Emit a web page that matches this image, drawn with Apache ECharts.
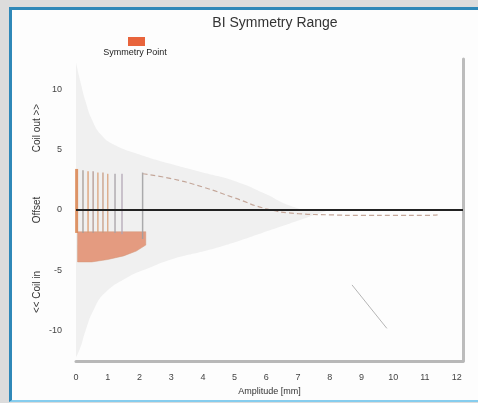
<!DOCTYPE html>
<html>
<head>
<meta charset="utf-8">
<script src="https://cdn.jsdelivr.net/npm/echarts@6/dist/echarts.min.js"></script>
<style>
  html, body { margin: 0; padding: 0; background: #dcdcdc; }
  #frame {
    position: absolute; left: 9px; top: 7px; width: 469px; height: 390px;
    background: #fdfdfd; border-left: 3px solid #2f88b8; border-top: 3px solid #2f88b8;
    border-bottom: 2px solid #86cdee;
  }
  #chart { position: absolute; left: 0; top: 0; width: 478px; height: 403px; }
</style>
</head>
<body>
<div id="frame"></div>
<div id="chart"></div>
<script>
// 坐标刻度
var xTicks = [0, 1, 2, 3, 4, 5, 6, 7, 8, 9, 10, 11, 12]
var yTicks = [-10, -5, 0, 5, 10]

// 灰色包络（上沿 / 下沿）
var upperX = [0, 0.15, 0.3, 0.5, 0.8, 1.2, 2, 3, 4, 5, 6, 6.6, 7.2]
var upperY = [12.2, 10.5, 9, 7.5, 6.2, 5.4, 4.6, 3.8, 3.1, 2.4, 1.3, 0.5, 0]
var lowerX = [0, 0.15, 0.3, 0.55, 0.9, 1.6, 2.3, 3, 4.2, 5.2, 6.2, 7.2, 8]
var lowerY = [-12.2, -11.3, -10, -8.3, -6.9, -5.6, -4.8, -4.1, -3.3, -2.5, -1.6, -0.7, 0]

// 对称点竖线：x 位置、上端、下端
var lineX = [0.02, 0.22, 0.38, 0.54, 0.69, 0.85, 1.0, 1.23, 1.45, 2.1]
var lineTop = [3.4, 3.3, 3.2, 3.2, 3.1, 3.1, 3.0, 3.0, 3.0, 3.1]
var lineBottom = [-1.9, -1.9, -1.9, -1.9, -1.9, -1.9, -1.9, -1.9, -2.0, -2.4]
var lineColor = ['#d9834e', '#a59a94', '#d99a6c', '#b39890', '#dba27a', '#c69a82', '#d9a27c', '#a6a0a6', '#b0a4b4', '#9e9ea0']

// 对称点下方密集块的轮廓
var blockX = [0.05, 2.2, 2.2, 1.9, 1.5, 1.0, 0.5, 0.05]
var blockY = [-1.8, -1.8, -2.9, -3.4, -3.8, -4.1, -4.3, -4.3]

// 虚线趋势
var dashX = [2.1, 3, 4, 5, 6, 7, 8, 9, 10, 11, 11.4]
var dashY = [3.0, 2.6, 1.9, 1.0, 0.1, -0.3, -0.4, -0.45, -0.45, -0.45, -0.4]

// 右下角的斜线
var diagX = [8.7, 9.8]
var diagY = [-6.2, -9.8]

function pairs (xs, ys) {
  return xs.map(function (x, i) { return [x, ys[i]] })
}

var chart = echarts.init(document.getElementById('chart'))
var font = 'Liberation Sans, Arial, sans-serif'

// 竖排的 y 轴说明文字
function sideText (text, y) {
  return {
    type: 'text', x: 37, y: y, rotation: Math.PI / 2,
    style: { text: text, font: '10px ' + font, fill: '#333', textAlign: 'center', textVerticalAlign: 'middle' }
  }
}

var option = {
  backgroundColor: 'transparent',
  animation: false,
  title: {
    text: 'BI Symmetry Range',
    left: 270,
    top: 11,
    textAlign: 'center',
    textStyle: { color: '#333', fontSize: 14, fontWeight: 400, fontFamily: font }
  },
  legend: {
    data: ['Symmetry Point'],
    left: 128,
    top: 37,
    padding: 0,
    itemWidth: 17,
    itemHeight: 9,
    icon: 'rect',
    formatter: function () { return '' }
  },
  grid: { left: 76, right: 15, top: 59, bottom: 42 },
  xAxis: {
    type: 'value',
    min: 0,
    max: 12.2,
    interval: 1,
    name: 'Amplitude [mm]',
    nameLocation: 'middle',
    nameGap: 18,
    nameTextStyle: { fontSize: 9, color: '#333', fontFamily: font },
    axisLine: { show: true, onZero: false, lineStyle: { color: '#b8b8b8', width: 3 } },
    axisTick: { show: false },
    splitLine: { show: false },
    axisLabel: {
      fontSize: 9, color: '#444', fontFamily: font, margin: 12,
      formatter: function (v) { return xTicks.indexOf(v) >= 0 ? String(v) : '' }
    }
  },
  yAxis: [{
    type: 'value',
    min: -12.5,
    max: 12.5,
    interval: 2.5,
    axisLine: { show: false },
    axisTick: { show: false },
    splitLine: { show: false },
    axisLabel: {
      fontSize: 9, color: '#444', fontFamily: font, margin: 14,
      formatter: function (v) { return yTicks.indexOf(v) >= 0 ? String(v) : '' }
    }
  }, {
    type: 'value',
    position: 'right',
    min: -12.5,
    max: 12.5,
    axisLine: { show: true, lineStyle: { color: '#bcbcbc', width: 3 } },
    axisTick: { show: false },
    axisLabel: { show: false },
    splitLine: { show: false }
  }],
  graphic: [
    sideText('Coil out >>', 128),
    sideText('Offset', 210),
    sideText('<< Coil in', 292),
    { type: 'text', x: 135, y: 53, style: { text: 'Symmetry Point', font: '9px ' + font, fill: '#222', textAlign: 'center', textVerticalAlign: 'middle' } }
  ],
  series: [
    {
      name: 'envelopeUpper',
      type: 'line',
      data: pairs(upperX, upperY),
      smooth: true,
      symbol: 'none',
      lineStyle: { width: 0 },
      areaStyle: { color: 'rgba(212,212,212,0.42)' },
      z: 1
    },
    {
      name: 'envelopeLower',
      type: 'line',
      data: pairs(lowerX, lowerY),
      smooth: true,
      symbol: 'none',
      lineStyle: { width: 0 },
      areaStyle: { color: 'rgba(212,212,212,0.42)' },
      z: 1
    },
    {
      name: 'Symmetry Point',
      type: 'custom',
      itemStyle: { color: '#e8643c' },
      data: lineX.map(function (x, i) { return [x, lineTop[i], lineBottom[i], i] }),
      renderItem: function (params, api) {
        var i = api.value(3)
        var p1 = api.coord([api.value(0), api.value(1)])
        var p2 = api.coord([api.value(0), api.value(2)])
        var items = [{
          type: 'line',
          shape: { x1: p1[0], y1: p1[1], x2: p2[0], y2: p2[1] },
          style: { stroke: lineColor[i], lineWidth: i === 0 ? 3 : 1.5, opacity: 0.85 }
        }]
        if (params.dataIndex === 0) {
          var pts = blockX.map(function (x, k) { return api.coord([x, blockY[k]]) })
          items.unshift({
            type: 'polygon',
            shape: { points: pts },
            style: { fill: 'rgba(222,118,80,0.7)', stroke: 'rgba(210,150,120,0.5)' }
          })
        }
        return { type: 'group', children: items }
      },
      z: 3
    },
    {
      name: 'trend',
      type: 'line',
      data: pairs(dashX, dashY),
      smooth: true,
      symbol: 'none',
      lineStyle: { color: '#c4a79a', width: 1.2, type: [5, 3] },
      z: 3
    },
    {
      name: 'diag',
      type: 'line',
      data: pairs(diagX, diagY),
      symbol: 'none',
      lineStyle: { color: '#b5b5b5', width: 1 },
      z: 2
    },
    {
      name: 'zero',
      type: 'line',
      data: [[0, 0], [12.2, 0]],
      symbol: 'none',
      lineStyle: { color: '#222', width: 2 },
      z: 4
    }
  ]
}

chart.setOption(option)
</script>
</body>
</html>
